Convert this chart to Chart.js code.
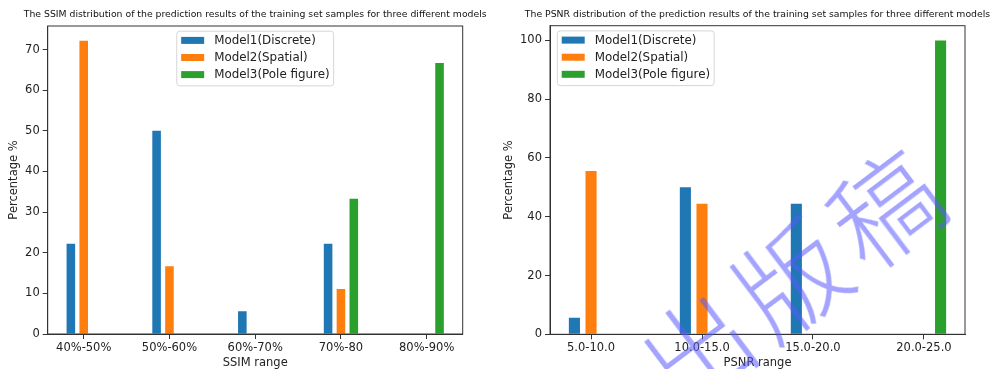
<!DOCTYPE html>
<html>
<head>
<meta charset="utf-8">
<script src="https://cdn.jsdelivr.net/npm/chart.js@4.4.0/dist/chart.umd.min.js"></script>
<style>
    html, body { margin: 0; padding: 0; background: #fff; }
    #wrap { position: relative; width: 990px; height: 369px; overflow: hidden; }
    .panel { position: absolute; top: 0; width: 495px; height: 369px; }
    #watermark {
        position: absolute; left: 792px; top: 272px;
        transform: translate(-50%, -50%) rotate(-37deg);
        white-space: nowrap; font-family: "Noto Sans CJK SC"; font-weight: 300;
        font-size: 108px; letter-spacing: 10px; color: rgba(90, 90, 255, 0.55);
        pointer-events: none;
    }
</style>
</head>
<body>
<div id="wrap">
    <div class="panel" style="left:0"><canvas id="ssimChart" width="495" height="369"></canvas></div>
    <div class="panel" style="left:495px"><canvas id="psnrChart" width="495" height="369"></canvas></div>
    <div id="watermark">出版稿</div>
</div>
<script>
const seriesNames = ['Model1(Discrete)', 'Model2(Spatial)', 'Model3(Pole figure)'];
const seriesColors = ['#1f77b4', '#ff7f0e', '#2ca02c'];

// SSIM panel
const ssimLabels = ['40%-50%', '50%-60%', '60%-70%', '70%-80', '80%-90%'];
const ssimModel1 = [22.2, 50.0, 5.6, 22.2, 0];
const ssimModel2 = [72.2, 16.7, 0, 11.1, 0];
const ssimModel3 = [0, 0, 0, 33.3, 66.7];

// PSNR panel
const psnrLabels = ['5.0-10.0', '10.0-15.0', '15.0-20.0', '20.0-25.0'];
const psnrModel1 = [5.6, 50.0, 44.4, 0];
const psnrModel2 = [55.6, 44.4, 0, 0];
const psnrModel3 = [0, 0, 0, 100];

const FONT = 'DejaVu Sans';
const TEXT = '#222';
const AXIS = '#333';

// frame, title and legend drawn over the plot like matplotlib does
const decorPlugin = {
    id: 'decor',
    afterDraw(chart, args, opts) {
        const { ctx, chartArea: a } = chart;
        ctx.save();
        ctx.strokeStyle = AXIS;
        ctx.lineWidth = 1;
        ctx.strokeRect(a.left, a.top, a.right - a.left, a.bottom - a.top);

        ctx.fillStyle = '#111';
        ctx.font = `9.3px "${FONT}"`;
        ctx.textAlign = 'center';
        ctx.textBaseline = 'middle';
        ctx.fillText(opts.title, (a.left + a.right) / 2, 15);

        // legend
        ctx.font = `11.9px "${FONT}"`;
        const maxW = Math.max(...seriesNames.map(n => ctx.measureText(n).width));
        const boxW = 37.4 + maxW + 4;
        const boxH = 54.7;
        const bx = opts.legendAlign === 'center' ? (a.left + a.right) / 2 - boxW / 2 : a.left + 7.3;
        const by = a.top + 5.2;
        ctx.beginPath();
        ctx.roundRect(bx, by, boxW, boxH, 3);
        ctx.fillStyle = 'rgba(255,255,255,0.85)';
        ctx.fill();
        ctx.strokeStyle = '#d6d6d6';
        ctx.stroke();
        ctx.textAlign = 'left';
        seriesNames.forEach((n, i) => {
            const cy = by + 9.2 + i * 17.1;
            ctx.fillStyle = seriesColors[i];
            ctx.fillRect(bx + 4.4, cy - 3.5, 23, 7);
            ctx.fillStyle = TEXT;
            ctx.fillText(n, bx + 37.4, cy + 0.5);
        });
        ctx.restore();
    }
};

function makeChart(id, labels, series, opts) {
    const datasets = series.map((vals, k) => ({
        label: seriesNames[k],
        data: vals.map((v, i) => ({ x: i, y: v })),
        backgroundColor: seriesColors[k],
        borderWidth: 0,
        categoryPercentage: 0.45,
        barPercentage: 0.667
    }));
    const yMax = Math.max(...series.flat()) * 1.05;
    return new Chart(document.getElementById(id), {
        type: 'bar',
        data: { datasets },
        options: {
            responsive: false,
            animation: false,
            layout: { padding: { left: 0, right: opts.padRight, top: opts.padTop, bottom: 0 } },
            plugins: {
                legend: { display: false },
                tooltip: { enabled: false },
                decor: { title: opts.title, legendAlign: opts.legendAlign }
            },
            scales: {
                x: {
                    type: 'linear',
                    offset: false,
                    bounds: 'ticks',
                    min: -opts.margin,
                    max: labels.length - 1 + opts.margin,
                    afterFit: s => { s.height = opts.xHeight; },
                    grid: { display: true, offset: false, drawOnChartArea: false, drawTicks: true, tickLength: 5, color: AXIS },
                    border: { display: true, color: AXIS },
                    ticks: {
                        stepSize: 1, includeBounds: false, autoSkip: false, maxRotation: 0,
                        padding: 2, color: TEXT, font: { family: FONT, size: 11.5 },
                        callback: v => Number.isInteger(v) ? labels[v] : ''
                    },
                    title: {
                        display: true, text: opts.xTitle, color: TEXT,
                        font: { family: FONT, size: 11.5, lineHeight: 1.1 },
                        padding: { top: 0, bottom: 0 }
                    }
                },
                y: {
                    min: 0,
                    max: yMax,
                    afterFit: s => { s.width = opts.yWidth; },
                    grid: { display: true, drawOnChartArea: false, drawTicks: true, tickLength: 5, color: AXIS },
                    border: { display: true, color: AXIS },
                    ticks: {
                        stepSize: opts.yStep, includeBounds: false, padding: 3,
                        color: TEXT, font: { family: FONT, size: 11.5 }
                    },
                    title: {
                        display: true, text: 'Percentage %', color: TEXT,
                        font: { family: FONT, size: 11.5, lineHeight: 1.2 },
                        padding: { top: 7, bottom: 0 }
                    }
                }
            }
        },
        plugins: [decorPlugin]
    });
}

makeChart('ssimChart', ssimLabels, [ssimModel1, ssimModel2, ssimModel3], {
    title: 'The SSIM distribution of the prediction results of the training set samples for three different models',
    xTitle: 'SSIM range', yStep: 10, margin: 0.42, legendAlign: 'center',
    padTop: 26, padRight: 32.3, yWidth: 47.7, xHeight: 35
});

makeChart('psnrChart', psnrLabels, [psnrModel1, psnrModel2, psnrModel3], {
    title: 'The PSNR distribution of the prediction results of the training set samples for three different models',
    xTitle: 'PSNR range', yStep: 20, margin: 0.37, legendAlign: 'left',
    padTop: 25.7, padRight: 25, yWidth: 55, xHeight: 34.7
});
</script>
</body>
</html>
